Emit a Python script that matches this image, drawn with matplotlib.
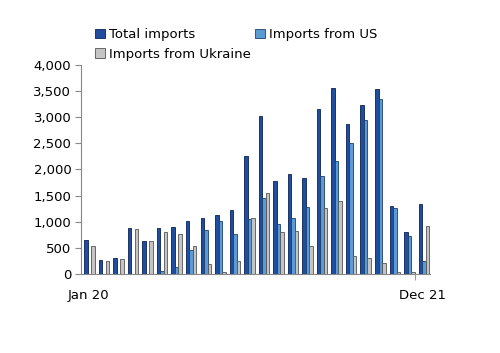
import numpy as np
import matplotlib.pyplot as plt
from matplotlib.ticker import FuncFormatter

# monthly values, Jan 2020 .. Dec 2021
months = ['Jan 20', 'Feb 20', 'Mar 20', 'Apr 20', 'May 20', 'Jun 20',
          'Jul 20', 'Aug 20', 'Sep 20', 'Oct 20', 'Nov 20', 'Dec 20',
          'Jan 21', 'Feb 21', 'Mar 21', 'Apr 21', 'May 21', 'Jun 21',
          'Jul 21', 'Aug 21', 'Sep 21', 'Oct 21', 'Nov 21', 'Dec 21']
total_imports = [651, 262, 306, 874, 625, 874, 906, 1014, 1070, 1130, 1215, 2255,
                 3020, 1770, 1914, 1840, 3150, 3565, 2865, 3230, 3535, 1300, 795, 1335]
imports_us = [0, 0, 0, 0, 0, 57, 125, 453, 835, 1010, 755, 1055,
              1450, 955, 1072, 1290, 1876, 2163, 2515, 2940, 3340, 1260, 720, 245]
imports_ukraine = [542, 243, 293, 855, 625, 800, 770, 536, 195, 35, 240, 1070,
                   1545, 805, 823, 536, 1265, 1395, 345, 305, 200, 45, 45, 925]

x = np.arange(len(months))
w = 0.24

fig = plt.figure(figsize=(5, 3.53), dpi=100)
ax = fig.add_axes([0.162, 0.224, 0.698, 0.592])

b1 = ax.bar(x - w + 0.08, total_imports, w, color='#1f4e9e', edgecolor='#0b1f55', linewidth=0.6,
            label='Total imports')
b2 = ax.bar(x + 0.08, imports_us, w, color='#5b9bd5', edgecolor='#1f3f6e', linewidth=0.6,
            label='Imports from US')
b3 = ax.bar(x + w + 0.08, imports_ukraine, w, color='#c4c4c4', edgecolor='#555555', linewidth=0.6,
            label='Imports from Ukraine')

ax.set_xlim(-0.5, len(months) - 0.5)
ax.set_ylim(0, 4000)
ax.set_yticks(np.arange(0, 4001, 500))
ax.yaxis.set_major_formatter(FuncFormatter(lambda v, p: f'{int(v):,}'))
ax.set_xticks([0, len(months) - 1])
ax.set_xticklabels([months[0], months[-1]])
ax.set_xticks([len(months) - 1.5], minor=True)

for s in ['top', 'right']:
    ax.spines[s].set_visible(False)
for s in ['left', 'bottom']:
    ax.spines[s].set_color('#888888')
    ax.spines[s].set_linewidth(0.8)

ax.tick_params(axis='y', length=4, color='#888888', labelsize=9.5, pad=3)
ax.tick_params(axis='x', which='major', length=0, labelsize=9.5, pad=11)
ax.tick_params(axis='x', which='minor', length=4, color='#888888', direction='out')

fig.legend(handles=[b1, b3, b2], ncol=2, loc='upper left', bbox_to_anchor=(0.18, 0.935),
           frameon=False, fontsize=9.5, handlelength=0.75, handleheight=0.75,
           handletextpad=0.3, columnspacing=0.3, labelspacing=0.5, borderaxespad=0)

fig.savefig('out.png', dpi=100)
